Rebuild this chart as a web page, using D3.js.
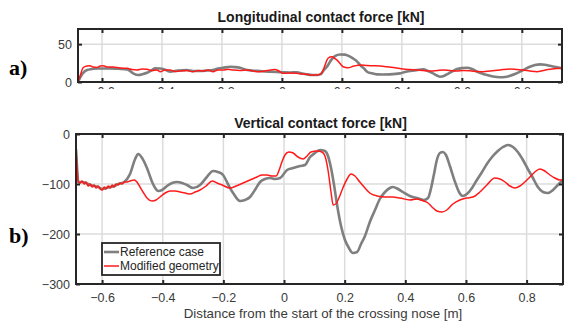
<!DOCTYPE html>
<html>
<head>
<meta charset="utf-8">
<script src="https://cdn.jsdelivr.net/npm/d3@7"></script>
<style>
  html, body { margin: 0; padding: 0; background: #fff; }
  svg { display: block; }
  text { font-family: "Liberation Sans", Arial, sans-serif; }
</style>
</head>
<body>
<svg id="chart" width="564" height="322"></svg>
<script>
// ---- Longitudinal contact force [kN] ----
const longRefX = [-0.680,-0.670,-0.660,-0.650,-0.633,-0.616,-0.596,-0.573,-0.546,-0.516,-0.496,-0.480,-0.463,-0.450,-0.433,-0.423,-0.406,-0.396,-0.383,-0.373,-0.347,-0.317,-0.297,-0.273,-0.250,-0.230,-0.213,-0.196,-0.173,-0.156,-0.140,-0.116,-0.096,-0.073,-0.056,-0.040,-0.016,0.004,0.027,0.050,0.067,0.084,0.100,0.117,0.130,0.140,0.154,0.164,0.177,0.194,0.210,0.224,0.237,0.251,0.261,0.274,0.284,0.300,0.317,0.337,0.360,0.394,0.410,0.427,0.451,0.471,0.487,0.504,0.517,0.527,0.540,0.550,0.567,0.584,0.601,0.617,0.634,0.651,0.667,0.684,0.704,0.727,0.744,0.761,0.777,0.794,0.811,0.827,0.844,0.861,0.877,0.894,0.914,0.934];
const longRefY = [0,7.9,13.2,15.8,17.1,18,17.8,18,17.4,16.7,11.4,9.2,10.5,12.2,15.8,18,17.8,17.1,15.1,13.6,15.1,15.8,14.5,14.5,15.1,15.8,17.8,18.8,20.1,19.7,18.8,15.8,14.9,14.5,13.8,13.6,13.2,12.8,12.5,12.8,11.2,10.1,9.2,9.2,10.5,15.8,22.4,28.9,34.2,36.4,36.2,34.2,31.2,27,22.4,17.8,13.6,11.4,10.1,9.9,10.1,11.4,13.2,14.5,15.8,16.7,14.5,11.4,8.6,7,7.9,10.1,13.8,17.1,18.4,18.8,17.1,13.6,11.2,9.2,7.2,6.2,6.6,8.3,10.5,13.6,17.1,20.1,22.4,23.3,22.8,21.4,19.7,18];
const longModX = [-0.680,-0.673,-0.663,-0.650,-0.640,-0.630,-0.616,-0.606,-0.596,-0.580,-0.563,-0.540,-0.516,-0.500,-0.483,-0.467,-0.450,-0.433,-0.416,-0.406,-0.390,-0.373,-0.357,-0.340,-0.317,-0.297,-0.280,-0.263,-0.246,-0.230,-0.213,-0.196,-0.180,-0.163,-0.140,-0.116,-0.096,-0.073,-0.050,-0.023,-0.010,0.004,0.027,0.050,0.067,0.084,0.100,0.117,0.127,0.134,0.144,0.150,0.160,0.167,0.177,0.184,0.194,0.204,0.220,0.240,0.261,0.284,0.304,0.327,0.350,0.377,0.404,0.427,0.451,0.471,0.494,0.517,0.537,0.561,0.584,0.604,0.627,0.651,0.671,0.694,0.717,0.737,0.761,0.784,0.804,0.827,0.851,0.871,0.894,0.917,0.934];
const longModY = [0,8,18.8,21,21.4,19.7,19.3,21,21.4,19.7,19.7,18.4,18,16.4,15.8,17.1,16.7,15.1,15.8,13.6,15.8,15.8,13.8,14.5,15.1,13.6,15.1,14.5,15.8,13.6,15.8,15.8,16.7,15.8,15.1,15.8,14.5,13.6,15.1,16.6,14.5,11.4,11.8,11.4,10.5,10.1,9.2,9.2,10.5,12.8,22.4,28.9,32.9,33.3,30.9,28.9,24.3,20.1,18.8,21,22.4,21.7,21.4,21,20.1,18.8,17.1,16.4,15.8,15.1,14.5,15.1,15.8,15.1,14.5,15.1,14.9,13.8,13.6,14.5,15.4,16.4,17.1,16.4,15.8,14.5,13.6,15.1,16.7,17.8,18];

// ---- Vertical contact force [kN] ----
const vertRefX = [-0.686,-0.682,-0.679,-0.666,-0.653,-0.639,-0.626,-0.613,-0.600,-0.587,-0.573,-0.560,-0.547,-0.534,-0.527,-0.508,-0.491,-0.481,-0.468,-0.452,-0.435,-0.425,-0.415,-0.402,-0.386,-0.369,-0.353,-0.336,-0.320,-0.300,-0.277,-0.257,-0.234,-0.218,-0.201,-0.185,-0.168,-0.145,-0.129,-0.112,-0.096,-0.079,-0.063,-0.046,-0.030,-0.013,0.010,0.030,0.053,0.069,0.086,0.102,0.119,0.135,0.145,0.155,0.165,0.175,0.188,0.201,0.214,0.227,0.241,0.254,0.267,0.283,0.300,0.316,0.333,0.349,0.359,0.376,0.392,0.415,0.438,0.461,0.475,0.485,0.494,0.504,0.514,0.524,0.534,0.547,0.564,0.577,0.590,0.603,0.620,0.636,0.653,0.669,0.686,0.705,0.722,0.738,0.755,0.771,0.788,0.804,0.821,0.837,0.854,0.870,0.887,0.903,0.920];
const vertRefY = [-30,-72,-96,-96,-98,-102,-104,-106,-110,-108,-106,-104,-100,-98,-96,-80,-50,-40,-48,-68,-96,-108,-114,-112,-104,-98,-96,-98,-102,-108,-102,-88,-74,-76,-82,-100,-118,-134,-132,-126,-112,-96,-90,-88,-90,-88,-72,-68,-64,-62,-46,-38,-32,-34,-44,-68,-102,-142,-184,-212,-228,-238,-236,-220,-204,-176,-152,-130,-116,-108,-106,-110,-116,-124,-128,-132,-128,-108,-82,-52,-38,-36,-42,-64,-96,-116,-124,-120,-108,-92,-76,-60,-46,-34,-26,-22,-26,-36,-52,-70,-88,-106,-116,-118,-112,-102,-92];
const vertModX = [-0.686,-0.682,-0.679,-0.672,-0.666,-0.659,-0.653,-0.646,-0.639,-0.633,-0.626,-0.620,-0.613,-0.606,-0.600,-0.593,-0.587,-0.580,-0.573,-0.567,-0.560,-0.554,-0.547,-0.541,-0.534,-0.527,-0.517,-0.508,-0.494,-0.485,-0.475,-0.465,-0.452,-0.435,-0.422,-0.409,-0.392,-0.376,-0.359,-0.343,-0.326,-0.310,-0.293,-0.277,-0.257,-0.237,-0.221,-0.204,-0.178,-0.158,-0.135,-0.112,-0.089,-0.073,-0.056,-0.040,-0.026,-0.016,-0.007,0.003,0.016,0.030,0.046,0.063,0.076,0.089,0.109,0.125,0.135,0.145,0.155,0.162,0.171,0.181,0.194,0.208,0.221,0.234,0.250,0.267,0.283,0.307,0.333,0.359,0.382,0.415,0.438,0.461,0.475,0.488,0.504,0.521,0.537,0.557,0.580,0.603,0.623,0.646,0.669,0.695,0.712,0.729,0.745,0.761,0.778,0.794,0.811,0.827,0.844,0.860,0.877,0.893,0.910,0.920];
const vertModY = [-28,-72,-96,-98,-94,-100,-96,-104,-100,-106,-102,-108,-104,-110,-112,-106,-110,-104,-108,-102,-106,-100,-102,-98,-100,-96,-96,-94,-92,-96,-106,-116,-128,-134,-132,-126,-118,-114,-114,-116,-118,-120,-116,-112,-104,-94,-98,-102,-108,-104,-98,-92,-86,-82,-82,-84,-84,-72,-56,-42,-36,-38,-46,-50,-44,-36,-34,-36,-44,-72,-116,-142,-140,-128,-108,-90,-80,-84,-96,-108,-118,-124,-126,-126,-128,-132,-130,-134,-138,-146,-154,-156,-152,-140,-132,-128,-126,-116,-102,-88,-90,-96,-104,-108,-104,-96,-86,-76,-70,-74,-82,-88,-92,-92];

const xTicks = [-0.6, -0.4, -0.2, 0, 0.2, 0.4, 0.6, 0.8];
const longYTicks = [0, 50];
const vertYTicks = [0, -100, -200, -300];
const seriesNames = ["Reference case", "Modified geometry"];

const refColor = "#7f7f7f";
const modColor = "#ff1a1a";
const axisColor = "#262626";
const gridColor = "#dcdcdc";
const labelColor = "#3a3a3a";

const svg = d3.select("#chart");

function zip(xs, ys) { return xs.map((x, i) => [x, ys[i]]); }

function panel(opts) {
  const x = d3.scaleLinear().domain(opts.xDomain).range([opts.left, opts.right]);
  const y = d3.scaleLinear().domain(opts.yDomain).range([opts.bottom, opts.top]);
  const g = svg.append("g");

  // grid
  g.selectAll(".gx").data(xTicks).enter().append("line")
    .attr("x1", d => x(d)).attr("x2", d => x(d))
    .attr("y1", opts.top).attr("y2", opts.bottom)
    .attr("stroke", gridColor).attr("stroke-width", 1.5);
  g.selectAll(".gy").data(opts.yTicks.filter(v => v > opts.yDomain[0] && v < opts.yDomain[1])).enter().append("line")
    .attr("x1", opts.left).attr("x2", opts.right)
    .attr("y1", d => y(d)).attr("y2", d => y(d))
    .attr("stroke", gridColor).attr("stroke-width", 1.5);

  // data lines
  const clipId = "clip" + opts.id;
  svg.append("clipPath").attr("id", clipId).append("rect")
    .attr("x", opts.left).attr("y", opts.top - 1)
    .attr("width", opts.right - opts.left).attr("height", opts.bottom - opts.top + 2);
  const line = d3.line().x(d => x(d[0])).y(d => y(d[1])).curve(d3.curveMonotoneX);
  const lg = g.append("g").attr("clip-path", `url(#${clipId})`);
  lg.append("path").attr("d", line(zip(opts.refX, opts.refY)))
    .attr("fill", "none").attr("stroke", refColor).attr("stroke-width", 2.6)
    .attr("stroke-linejoin", "round");
  lg.append("path").attr("d", line(zip(opts.modX, opts.modY)))
    .attr("fill", "none").attr("stroke", modColor).attr("stroke-width", 1.5)
    .attr("stroke-linejoin", "round");

  // axes (inward ticks on all four sides)
  const tl = 4;
  const xb = d3.axisBottom(x).tickValues(xTicks).tickSize(-tl).tickPadding(opts.xPad)
    .tickFormat(d => d === 0 ? "0" : d3.format(".1f")(d));
  const xt = d3.axisTop(x).tickValues(xTicks).tickSize(-tl).tickFormat("");
  const yl = d3.axisLeft(y).tickValues(opts.yTicks).tickSize(-tl).tickPadding(6);
  const yr = d3.axisRight(y).tickValues(opts.yTicks).tickSize(-tl).tickFormat("");

  const xbWrap = g.append("g");
  if (opts.xLabelClip) xbWrap.attr("clip-path", `url(#${opts.xLabelClip})`);
  xbWrap.append("g").attr("transform", `translate(0,${opts.bottom})`).call(xb);
  g.append("g").attr("transform", `translate(0,${opts.top})`).call(xt);
  g.append("g").attr("transform", `translate(${opts.left},0)`).call(yl);
  g.append("g").attr("transform", `translate(${opts.right},0)`).call(yr);

  g.selectAll(".domain").attr("stroke", "none");
  g.selectAll(".tick line").attr("stroke", axisColor).attr("stroke-width", 2);
  g.selectAll(".tick text").attr("fill", labelColor).style("font-size", "12.5px")
    .style("font-family", "'Liberation Sans', Arial, sans-serif");

  // axes box
  g.append("rect").attr("x", opts.left).attr("y", opts.top)
    .attr("width", opts.right - opts.left).attr("height", opts.bottom - opts.top)
    .attr("fill", "none").attr("stroke", axisColor).attr("stroke-width", 2);

  // title
  svg.append("text").attr("x", (opts.left + opts.right) / 2 + 1).attr("y", opts.titleY)
    .attr("text-anchor", "middle").attr("font-weight", "bold").attr("font-size", 14)
    .attr("fill", "#1a1a1a").text(opts.title);
  return { x, y };
}

// the longitudinal panel's tick labels are cut off just below its axis
svg.append("clipPath").attr("id", "topLabelClip").append("rect")
  .attr("x", 0).attr("y", 0).attr("width", 564).attr("height", 89);

panel({
  id: "a", left: 78, right: 562, top: 29, bottom: 82, xPad: 5,
  xDomain: [-0.68, 0.934], yDomain: [0, 70], yTicks: longYTicks,
  refX: longRefX, refY: longRefY, modX: longModX, modY: longModY,
  title: "Longitudinal contact force [kN]", titleY: 22, xLabelClip: "topLabelClip"
});

panel({
  id: "b", left: 76, right: 563, top: 134, bottom: 284, xPad: 9.5,
  xDomain: [-0.686, 0.92], yDomain: [-300, 0], yTicks: vertYTicks,
  refX: vertRefX, refY: vertRefY, modX: vertModX, modY: vertModY,
  title: "Vertical contact force [kN]", titleY: 128
});

// x-axis label
svg.append("text").attr("x", 323).attr("y", 318).attr("text-anchor", "middle")
  .attr("font-size", 13.3).attr("fill", labelColor)
  .text("Distance from the start of the crossing nose [m]");

// legend
const leg = svg.append("g");
leg.append("rect").attr("x", 102).attr("y", 243).attr("width", 118).attr("height", 32)
  .attr("fill", "#fff").attr("stroke", axisColor).attr("stroke-width", 1.8);
const legColors = [refColor, modColor];
const legWidths = [2.6, 1.5];
seriesNames.forEach((name, i) => {
  const yy = 252 + i * 14;
  leg.append("line").attr("x1", 104).attr("x2", 119).attr("y1", yy).attr("y2", yy)
    .attr("stroke", legColors[i]).attr("stroke-width", legWidths[i]);
  leg.append("text").attr("x", 120).attr("y", yy + 4).attr("font-size", 12)
    .attr("fill", "#262626").text(name);
});

// panel labels
svg.append("text").attr("x", 9).attr("y", 75).attr("font-size", 22).attr("font-weight", "bold")
  .style("font-family", "'Liberation Serif', 'Times New Roman', serif").text("a)");
svg.append("text").attr("x", 9).attr("y", 243).attr("font-size", 22).attr("font-weight", "bold")
  .style("font-family", "'Liberation Serif', 'Times New Roman', serif").text("b)");
</script>
</body>
</html>
